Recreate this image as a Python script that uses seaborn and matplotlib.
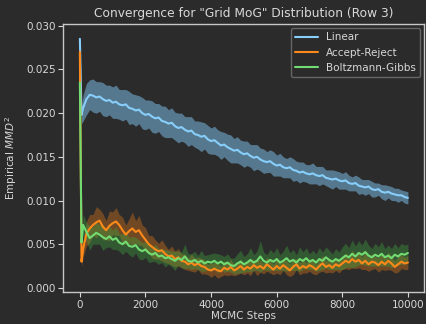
import numpy as np
import pandas as pd
import seaborn as sns
import matplotlib.pyplot as plt

# MCMC step grid
steps = [0, 50] + list(range(100, 10001, 100))

# Mean empirical MMD^2 per method
linear_mean = [
    0.0285, 0.0198,
    0.0206, 0.0216, 0.0221, 0.0220, 0.0218, 0.0219, 0.0216, 0.0214, 0.0215, 0.0212,
    0.0213, 0.0210, 0.0209, 0.0210, 0.0206, 0.0205, 0.0203, 0.0204, 0.0200, 0.0198,
    0.0199, 0.0196, 0.0194, 0.0195, 0.0191, 0.0190, 0.0188, 0.0189, 0.0185, 0.0183,
    0.0184, 0.0181, 0.0179, 0.0180, 0.0176, 0.0175, 0.0173, 0.0174, 0.0170, 0.0168,
    0.0169, 0.0166, 0.0163, 0.0164, 0.0161, 0.0159, 0.0157, 0.0158, 0.0155, 0.0153,
    0.0154, 0.0151, 0.0149, 0.0150, 0.0147, 0.0145, 0.0144, 0.0145, 0.0142, 0.0140,
    0.0141, 0.0138, 0.0137, 0.0138, 0.0135, 0.0134, 0.0132, 0.0133, 0.0131, 0.0130,
    0.0131, 0.0129, 0.0128, 0.0129, 0.0126, 0.0125, 0.0124, 0.0125, 0.0123, 0.0122,
    0.0123, 0.0120, 0.0119, 0.0120, 0.0117, 0.0116, 0.0115, 0.0116, 0.0113, 0.0112,
    0.0113, 0.0110, 0.0109, 0.0110, 0.0108, 0.0107, 0.0106, 0.0106, 0.0104, 0.0103,
]
ar_mean = [
    0.0270, 0.0030,
    0.0045, 0.0062, 0.0068, 0.0072, 0.0075, 0.0077, 0.0070, 0.0066, 0.0071, 0.0074,
    0.0076, 0.0072, 0.0066, 0.0061, 0.0065, 0.0068, 0.0064, 0.0066, 0.0060, 0.0055,
    0.0050, 0.0047, 0.0044, 0.0042, 0.0043, 0.0039, 0.0036, 0.0037, 0.0033, 0.0035,
    0.0031, 0.0030, 0.0027, 0.0029, 0.0026, 0.0028, 0.0025, 0.0024, 0.0021, 0.0020,
    0.0022, 0.0020, 0.0019, 0.0023, 0.0021, 0.0024, 0.0020, 0.0022, 0.0025, 0.0021,
    0.0024, 0.0022, 0.0026, 0.0023, 0.0025, 0.0022, 0.0027, 0.0024, 0.0021, 0.0025,
    0.0022, 0.0026, 0.0023, 0.0020, 0.0024, 0.0027, 0.0022, 0.0025, 0.0023, 0.0026,
    0.0024, 0.0021, 0.0025, 0.0028, 0.0024, 0.0026, 0.0023, 0.0027, 0.0025, 0.0028,
    0.0031, 0.0029, 0.0033, 0.0030, 0.0032, 0.0028, 0.0031, 0.0027, 0.0030, 0.0029,
    0.0026, 0.0030, 0.0027, 0.0031, 0.0028, 0.0024, 0.0027, 0.0030, 0.0028, 0.0029,
]
bg_mean = [
    0.0235, 0.0052,
    0.0072, 0.0064, 0.0057, 0.0060, 0.0063, 0.0061, 0.0058, 0.0056, 0.0059, 0.0055,
    0.0057, 0.0052, 0.0050, 0.0053, 0.0048, 0.0047, 0.0049, 0.0044, 0.0042, 0.0044,
    0.0040, 0.0038, 0.0040, 0.0036, 0.0037, 0.0034, 0.0035, 0.0033, 0.0031, 0.0034,
    0.0032, 0.0036, 0.0031, 0.0030, 0.0032, 0.0029, 0.0031, 0.0028, 0.0030, 0.0029,
    0.0031, 0.0028, 0.0030, 0.0027, 0.0029, 0.0026, 0.0025, 0.0028, 0.0030, 0.0027,
    0.0029, 0.0032, 0.0029, 0.0031, 0.0036, 0.0031, 0.0029, 0.0032, 0.0030, 0.0033,
    0.0029, 0.0031, 0.0034, 0.0030, 0.0032, 0.0029, 0.0033, 0.0031, 0.0034, 0.0030,
    0.0032, 0.0029, 0.0033, 0.0031, 0.0035, 0.0032, 0.0030, 0.0033, 0.0031, 0.0034,
    0.0037, 0.0035, 0.0039, 0.0036, 0.0040, 0.0038, 0.0041, 0.0037, 0.0035, 0.0038,
    0.0036, 0.0039, 0.0035, 0.0037, 0.0034, 0.0038, 0.0036, 0.0039, 0.0038, 0.0040,
]

# Spread (std over runs) per method
linear_std = [
    0.0002, 0.0010,
    0.0015, 0.0018, 0.0017, 0.0019, 0.0018, 0.0017, 0.0019, 0.0018, 0.0017, 0.0018,
    0.0019, 0.0017, 0.0018, 0.0017, 0.0019, 0.0017, 0.0018, 0.0016, 0.0018, 0.0017,
    0.0016, 0.0018, 0.0017, 0.0016, 0.0017, 0.0018, 0.0016, 0.0017, 0.0016, 0.0017,
    0.0016, 0.0015, 0.0017, 0.0016, 0.0015, 0.0016, 0.0017, 0.0015, 0.0016, 0.0015,
    0.0016, 0.0015, 0.0016, 0.0014, 0.0015, 0.0016, 0.0014, 0.0015, 0.0014, 0.0015,
    0.0014, 0.0013, 0.0015, 0.0014, 0.0013, 0.0014, 0.0012, 0.0013, 0.0014, 0.0012,
    0.0013, 0.0012, 0.0011, 0.0012, 0.0013, 0.0011, 0.0012, 0.0011, 0.0010, 0.0011,
    0.0012, 0.0010, 0.0011, 0.0010, 0.0009, 0.0010, 0.0011, 0.0009, 0.0010, 0.0009,
    0.0010, 0.0009, 0.0008, 0.0009, 0.0010, 0.0008, 0.0009, 0.0008, 0.0009, 0.0008,
    0.0007, 0.0008, 0.0009, 0.0007, 0.0008, 0.0007, 0.0008, 0.0006, 0.0007, 0.0007,
]
ar_std = [
    0.0002, 0.0006,
    0.0010, 0.0014, 0.0016, 0.0012, 0.0018, 0.0013, 0.0015, 0.0011, 0.0017, 0.0013,
    0.0016, 0.0012, 0.0015, 0.0011, 0.0014, 0.0019, 0.0013, 0.0017, 0.0012, 0.0014,
    0.0010, 0.0013, 0.0011, 0.0009, 0.0012, 0.0010, 0.0008, 0.0011, 0.0009, 0.0010,
    0.0008, 0.0009, 0.0007, 0.0010, 0.0008, 0.0007, 0.0009, 0.0008, 0.0006, 0.0008,
    0.0007, 0.0009, 0.0006, 0.0008, 0.0007, 0.0009, 0.0006, 0.0007, 0.0008, 0.0006,
    0.0007, 0.0008, 0.0006, 0.0009, 0.0007, 0.0006, 0.0008, 0.0007, 0.0006, 0.0008,
    0.0007, 0.0006, 0.0008, 0.0007, 0.0009, 0.0006, 0.0007, 0.0008, 0.0006, 0.0007,
    0.0008, 0.0006, 0.0007, 0.0009, 0.0007, 0.0008, 0.0006, 0.0007, 0.0008, 0.0007,
    0.0009, 0.0008, 0.0010, 0.0008, 0.0009, 0.0007, 0.0010, 0.0008, 0.0009, 0.0007,
    0.0008, 0.0009, 0.0007, 0.0010, 0.0008, 0.0007, 0.0009, 0.0008, 0.0007, 0.0008,
]
bg_std = [
    0.0002, 0.0008,
    0.0012, 0.0011, 0.0014, 0.0010, 0.0013, 0.0011, 0.0015, 0.0010, 0.0012, 0.0011,
    0.0013, 0.0010, 0.0012, 0.0011, 0.0010, 0.0012, 0.0009, 0.0011, 0.0010, 0.0009,
    0.0011, 0.0008, 0.0010, 0.0009, 0.0008, 0.0010, 0.0008, 0.0009, 0.0011, 0.0008,
    0.0009, 0.0014, 0.0008, 0.0009, 0.0010, 0.0008, 0.0012, 0.0009, 0.0008, 0.0010,
    0.0009, 0.0011, 0.0008, 0.0009, 0.0010, 0.0008, 0.0009, 0.0011, 0.0013, 0.0009,
    0.0010, 0.0014, 0.0009, 0.0011, 0.0018, 0.0010, 0.0009, 0.0012, 0.0010, 0.0013,
    0.0009, 0.0011, 0.0015, 0.0010, 0.0012, 0.0009, 0.0014, 0.0010, 0.0012, 0.0009,
    0.0011, 0.0010, 0.0013, 0.0010, 0.0012, 0.0011, 0.0009, 0.0012, 0.0010, 0.0013,
    0.0014, 0.0011, 0.0016, 0.0012, 0.0014, 0.0011, 0.0015, 0.0012, 0.0010, 0.0013,
    0.0011, 0.0014, 0.0010, 0.0012, 0.0011, 0.0013, 0.0010, 0.0012, 0.0011, 0.0010,
]

methods = ["Linear", "Accept-Reject", "Boltzmann-Gibbs"]
line_colors = ["#87cefa", "#ff8a1a", "#72dc72"]
band_colors = ["#7ab8e0", "#d8741a", "#3fa03f"]
band_alpha = [0.55, 0.4, 0.4]

bg = "#2b2b2b"
fg = "#d8d8d8"
sns.set_theme(style="dark", rc={
    "figure.facecolor": bg, "axes.facecolor": bg, "axes.edgecolor": "#c8c8c8",
    "text.color": fg, "axes.labelcolor": fg, "xtick.color": fg, "ytick.color": fg,
    "xtick.bottom": True, "ytick.left": True, "axes.grid": False,
})
plt.rcParams["font.family"] = ["DejaVu Sans"]

df = pd.DataFrame({
    "step": steps * 3,
    "mmd": linear_mean + ar_mean + bg_mean,
    "method": [m for m in methods for _ in steps],
})

fig, ax = plt.subplots(figsize=(4.26, 3.24), dpi=100)
fig.subplots_adjust(left=0.149, right=0.996, bottom=0.099, top=0.926)

sns.lineplot(data=df, x="step", y="mmd", hue="method", hue_order=methods,
             palette=line_colors, linewidth=1.5, ax=ax, zorder=3)

for mean, std, c, a in zip([linear_mean, ar_mean, bg_mean],
                           [linear_std, ar_std, bg_std], band_colors, band_alpha):
    mean = np.array(mean)
    std = np.array(std)
    ax.fill_between(steps, mean - std, mean + std, color=c, alpha=a,
                    linewidth=0, zorder=2)

ax.set_ylim(-0.00046, 0.0302)
ax.set_xlim(-500, 10500)
ax.set_yticks(np.arange(0, 0.0301, 0.005))
ax.set_xticks(np.arange(0, 10001, 2000))
ax.tick_params(labelsize=7.5, length=3.5, width=0.8, pad=2, colors=fg)
ax.yaxis.set_major_formatter(plt.FormatStrFormatter("%.3f"))
for sp in ax.spines.values():
    sp.set_linewidth(1.0)

ax.set_title('Convergence for "Grid MoG" Distribution (Row 3)', fontsize=8.8, pad=5)
ax.set_xlabel("MCMC Steps", fontsize=7.5, labelpad=1)
ax.set_ylabel("Empirical $MMD^2$", fontsize=7.5, labelpad=5)

leg = ax.legend(loc="upper right", fontsize=7.5, facecolor=bg, edgecolor="#666666",
                framealpha=1, borderaxespad=0.4, handlelength=2.2)
for t in leg.get_texts():
    t.set_color(fg)

fig.savefig("out.png", dpi=100, facecolor=bg)
